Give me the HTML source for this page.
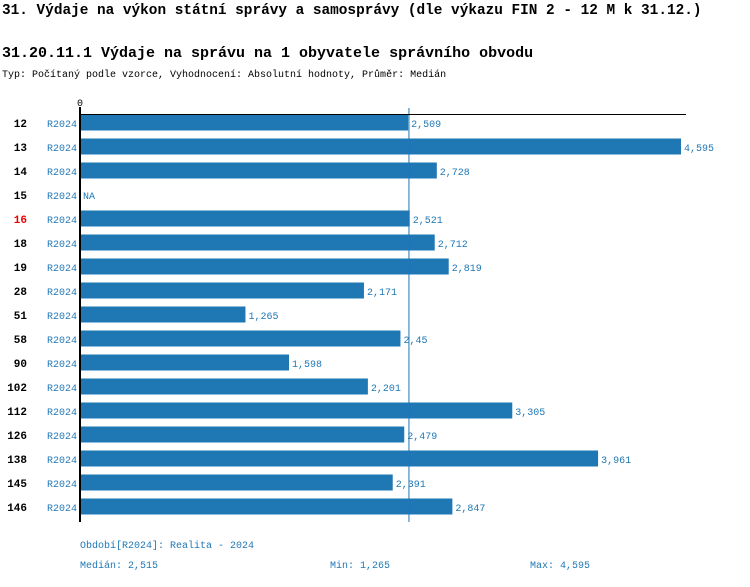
<!DOCTYPE html>
<html><head><meta charset="utf-8"><style>
body{margin:0;background:#fff;width:750px;height:582px;overflow:hidden;font-family:"Liberation Mono",monospace}
svg text{font-family:"Liberation Mono",monospace}
</style></head><body>
<svg id="c" width="750" height="582">
<text x="2" y="14" font-size="14.4" font-weight="bold" fill="#000">31. Výdaje na výkon státní správy a samosprávy (dle výkazu FIN 2 - 12 M k 31.12.)</text>
<text x="2" y="57" font-size="15" font-weight="bold" fill="#000">31.20.11.1 Výdaje na správu na 1 obyvatele správního obvodu</text>
<text x="2" y="77" font-size="10" fill="#000">Typ: Počítaný podle vzorce, Vyhodnocení: Absolutní hodnoty, Průměr: Medián</text>
<g id="marks"></g>
<text x="80" y="548" font-size="10" fill="#1f77b4">Období[R2024]: Realita - 2024</text>
<text x="80" y="568" font-size="10" fill="#1f77b4">Medián: 2,515</text>
<text x="330" y="568" font-size="10" fill="#1f77b4">Min: 1,265</text>
<text x="530" y="568" font-size="10" fill="#1f77b4">Max: 4,595</text>
</svg>
<script>
const categories=["12","13","14","15","16","18","19","28","51","58","90","102","112","126","138","145","146"];
const values=[2509,4595,2728,null,2521,2712,2819,2171,1265,2450,1598,2201,3305,2479,3961,2391,2847];
const valueLabels=["2,509","4,595","2,728","NA","2,521","2,712","2,819","2,171","1,265","2,45","1,598","2,201","3,305","2,479","3,961","2,391","2,847"];
const highlighted=["16"];
const medianValue=2515;
const NS="http://www.w3.org/2000/svg";
const g=document.getElementById('marks');
const x0=80,xMaxPx=681,xMaxVal=4595;
const xs=v=>x0+v*(xMaxPx-x0)/xMaxVal;
const ys=i=>123+i*24;
function mk(t,a){const e=document.createElementNS(NS,t);for(const k in a)e.setAttribute(k,a[k]);g.appendChild(e);return e;}
categories.forEach((c,i)=>{
  const y=ys(i);
  const v=values[i];
  if(v!=null){
    const r=mk('rect',{x:x0,y:y-8.5,width:xs(v)-x0,height:16,fill:'#1f77b4'});
    
    
  }
  const l=mk('text',{x:27,y:y+4,'font-size':11,'font-weight':'bold','text-anchor':'end',fill:highlighted.includes(c)?'#e00':'#000'});
  l.textContent=c;
  
  
  const p=mk('text',{x:77,y:y+4,'font-size':10,'text-anchor':'end',fill:'#1f77b4'});
  p.textContent='R2024';
  
  
  const vl=mk('text',{x:(v!=null?xs(v):x0)+3,y:y+4,'font-size':10,fill:'#1f77b4'});
  vl.textContent=valueLabels[i];
  
  
});
const ml=mk('line',{x1:xs(medianValue),x2:xs(medianValue),y1:108,y2:522,stroke:'#1f77b4','stroke-width':1});


const ax=mk('line',{x1:x0,x2:x0,y1:107,y2:522,stroke:'#000','stroke-width':2});


const tx=mk('line',{x1:x0,x2:686,y1:114.5,y2:114.5,stroke:'#000','stroke-width':1});


const z=mk('text',{x:x0,y:106,'font-size':10,'text-anchor':'middle',fill:'#000'});
z.textContent='0';


</script>
</body></html>
